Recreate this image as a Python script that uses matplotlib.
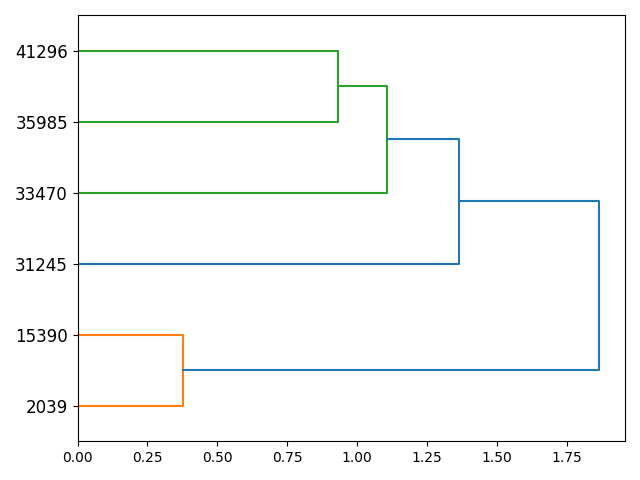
import matplotlib
matplotlib.use("Agg")
import matplotlib.pyplot as plt

labels = ['2039', '15390', '31245', '33470', '35985', '41296']
# merges: cluster ids (leaves 0..5, new clusters 6..10)
merge_a = [0, 4, 3, 2, 6]
merge_b = [1, 5, 7, 8, 9]
merge_h = [0.3758, 0.931, 1.106, 1.364, 1.865]
merge_c = ['C1', 'C2', 'C2', 'C0', 'C0']

fig, ax = plt.subplots(figsize=(6.4, 4.8), dpi=100)
pos = {i: 5 + 10 * i for i in range(len(labels))}
hgt = {i: 0.0 for i in range(len(labels))}
for k, (a, b, h, c) in enumerate(zip(merge_a, merge_b, merge_h, merge_c)):
    ya, yb = pos[a], pos[b]
    ax.plot([hgt[a], h, h, hgt[b]], [ya, ya, yb, yb], color=c, linewidth=1.5)
    nid = len(labels) + k
    pos[nid] = (ya + yb) / 2
    hgt[nid] = h

ax.set_ylim(0, 10 * len(labels))
ax.set_xlim(0, max(merge_h) * 1.05)
ax.set_yticks([5 + 10 * i for i in range(len(labels))])
ax.set_yticklabels(labels, fontsize=12)
fig.tight_layout()
fig.savefig("out.png")
